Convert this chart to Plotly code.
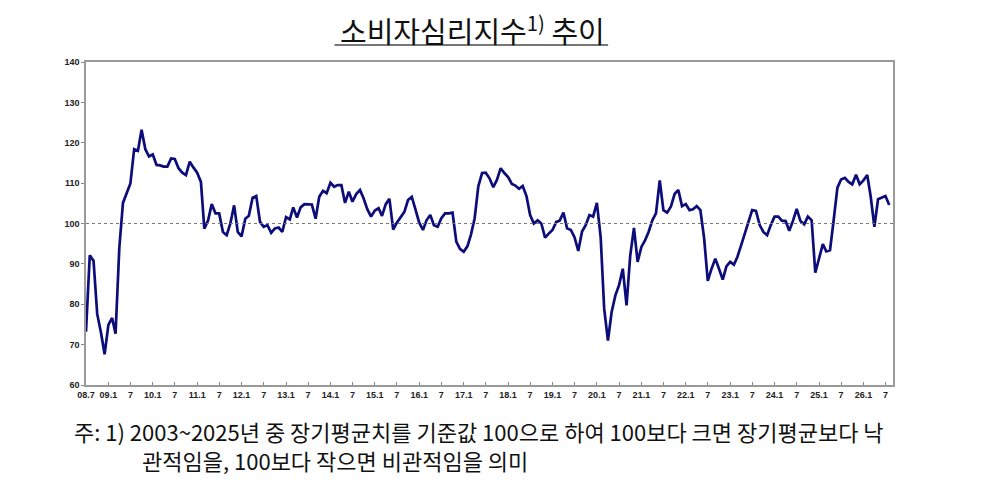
import pandas as pd
import plotly.graph_objects as go

# monthly consumer sentiment index, 2008.7 onward
START_MONTH = "2008-07-01"
CCSI = [
    73.2, 92.1, 90.8, 77.6, 73.0, 67.6, 74.9, 76.6, 72.7, 94.0,      # 08.7 - 09.4
    105.1, 107.6, 109.9, 118.4, 118.0, 123.2, 118.4, 116.6, 117.1, 114.5,
    114.4, 114.1, 114.1, 116.1, 116.0, 113.7, 112.6, 112.0, 115.3, 113.9,
    112.6, 110.3, 98.7, 100.8, 104.8, 102.5, 102.5, 97.9, 97.1, 100.0,
    104.5, 97.9, 96.8, 101.2, 101.9, 106.4, 106.8, 100.4, 99.2, 99.6,
    97.7, 98.8, 99.0, 97.9, 101.6, 101.0, 104.0, 101.5, 104.0, 104.8,
    104.7, 104.7, 101.2, 106.6, 108.1, 107.5, 110.1, 109.1, 109.5, 109.5,
    105.1, 107.9, 105.4, 107.3, 108.3, 106.2, 103.5, 101.7, 103.2, 103.8,
    101.9, 104.8, 106.1, 98.5, 100.2, 101.7, 102.9, 105.8, 106.6, 103.5,
    100.2, 98.4, 100.8, 102.1, 99.6, 99.2, 101.3, 102.5, 102.5, 102.7,
    95.5, 93.7, 93.0, 94.4, 97.2, 101.3, 109.2, 112.5, 112.6, 111.2,
    109.0, 110.8, 113.7, 112.5, 111.5, 109.8, 109.4, 108.6, 109.3, 106.8,
    102.1, 100.0, 100.8, 100.0, 96.5, 97.5, 98.4, 100.4, 100.7, 102.7,
    98.8, 98.4, 96.6, 93.2, 98.0, 99.6, 102.1, 101.7, 105.1, 96.7,
    78.9, 71.0, 78.0, 82.2, 84.7, 88.8, 79.7, 92.0, 98.9, 90.5,
    94.2, 95.9, 97.9, 100.8, 102.5, 110.7, 103.3, 102.7, 104.2, 107.3,
    108.3, 104.3, 104.8, 103.3, 103.5, 104.3, 103.3, 96.3, 85.8, 88.8,
    91.3, 88.8, 86.1, 89.4, 90.5, 89.8, 91.7, 94.6, 97.5, 100.4,
    103.3, 103.1, 99.6, 97.9, 97.1, 99.6, 101.7, 101.7, 100.7, 100.6,
    98.2, 100.7, 103.6, 100.6, 99.8, 101.7, 100.8, 87.8, 91.3, 94.9,
    93.1, 93.4, 100.8, 108.9, 110.9, 111.3, 110.3, 109.7, 112.1, 109.7,
    110.7, 112.0, 106.8, 99.2, 106.0, 106.5, 106.8, 104.6,
]

# x-axis labels every six months
TICK_DATES = pd.date_range("2008-07-01", "2026-07-01", freq="6MS")
TICK_TEXT = ["08.7"] + [
    f"{d.year % 100:02d}.1" if d.month == 1 else "7" for d in TICK_DATES[1:]
]

Y_TICKS = list(range(60, 141, 10))
BASELINE = 100

TITLE = "소비자심리지수<sup>1)</sup> 추이"
NOTE_1 = "주: 1) 2003~2025년 중 장기평균치를 기준값 100으로 하여 100보다 크면 장기평균보다 낙"
NOTE_2 = "관적임을, 100보다 작으면 비관적임을 의미"

months = pd.date_range(START_MONTH, periods=len(CCSI), freq="MS")

fig = go.Figure()
fig.add_trace(go.Scatter(
    x=months,
    y=CCSI,
    mode="lines",
    line=dict(color="#0c0c7a", width=2.7),
    showlegend=False,
    hoverinfo="x+y",
))

# long-run average reference line
fig.add_shape(type="line", xref="paper", x0=0, x1=1, yref="y", y0=BASELINE, y1=BASELINE,
              line=dict(color="#777777", width=1, dash="dot"))

axis_font = dict(family="Liberation Sans, Arial", size=9, color="#222222", weight="bold")

# page body has an 8px margin, so the figure is sized to fit inside the window
fig.update_layout(
    width=984,
    height=486,
    margin=dict(l=78, r=99, t=54, b=109),
    paper_bgcolor="white",
    plot_bgcolor="white",
    xaxis=dict(
        range=[pd.Timestamp("2008-07-01"), pd.Timestamp("2026-09-01")],
        tickvals=TICK_DATES,
        ticktext=TICK_TEXT,
        ticks="inside",
        ticklen=3,
        tickcolor="#888888",
        tickfont=axis_font,
        showgrid=False,
        zeroline=False,
        showline=True,
        linecolor="#9a9a9a",
        linewidth=1.5,
        mirror=True,
    ),
    yaxis=dict(
        range=[60, 140],
        tickvals=Y_TICKS,
        ticks="outside",
        ticklen=3,
        tickcolor="#888888",
        tickfont=axis_font,
        showgrid=False,
        zeroline=False,
        showline=True,
        linecolor="#9a9a9a",
        linewidth=1.5,
        mirror=True,
    ),
)

cjk = "Noto Sans CJK KR"
fig.add_annotation(text=TITLE, xref="paper", yref="paper", x=0.4785, y=1.102,
                   xanchor="center", yanchor="middle", showarrow=False,
                   font=dict(family=cjk, size=29, color="#111111"))
# title underline
fig.add_shape(type="line", xref="paper", yref="paper", x0=0.308, x1=0.647, y0=1.053, y1=1.053,
              line=dict(color="#777777", width=2))

fig.add_annotation(text=NOTE_1, xref="paper", yref="paper", x=-0.017, y=-0.142,
                   xanchor="left", yanchor="middle", showarrow=False,
                   font=dict(family=cjk, size=22, color="#111111"))
fig.add_annotation(text=NOTE_2, xref="paper", yref="paper", x=0.067, y=-0.232,
                   xanchor="left", yanchor="middle", showarrow=False,
                   font=dict(family=cjk, size=22, color="#111111"))

fig.write_html("out.html")
